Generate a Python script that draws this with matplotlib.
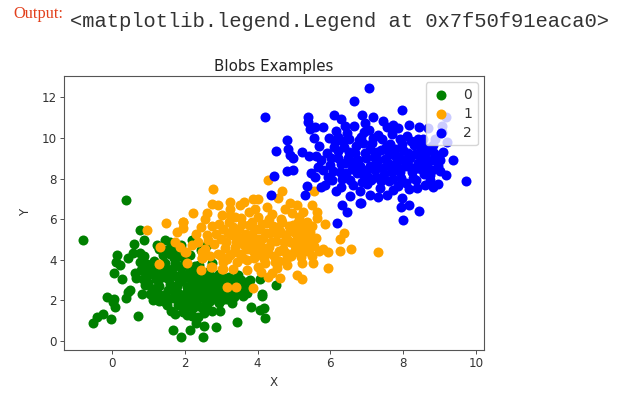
import matplotlib
matplotlib.use("Agg")
import matplotlib.pyplot as plt

title = "Blobs Examples"
x_label = "X"
y_label = "Y"
series_names = ["0", "1", "2"]
series_colors = ["green", "orange", "blue"]
x_ticks = [0, 2, 4, 6, 8, 10]
y_ticks = [0, 2, 4, 6, 8, 10, 12]

green_points = [
 (0.37,6.93),(-0.81,4.96),(0.77,5.45),(0.89,4.96),(0.59,4.78),(1.23,4.73),(1.45,4.98),(0.13,4.22),(0.11,3.91),
 (-0.15,2.17),(0.06,2.07),(0.09,1.66),(0.04,1.94),(0.37,2.13),(0.49,2.53),(0.45,2.43),(0.82,2.30),(0.05,3.35),
 (0.27,3.04),(0.22,3.74),(0.45,4.07),(0.57,4.32),(0.77,4.35),(0.88,4.2),(0.64,3.33),(0.66,3.09),(0.77,3.91),
 (0.70,1.23),(-0.53,0.87),(-0.42,1.2),(-0.24,1.31),(-0.04,1.07),(1.68,0.56),(1.89,0.21),(2.13,0.53),(2.51,0.2),
 (2.52,0.76),(2.85,0.69),(3.44,0.92),(2.31,0.9),(2.37,1.2),(2.53,1.4),(2.74,1.49),(2.98,1.49),(3.82,1.69),
 (4.07,1.53),(4.18,1.63),(4.21,1.13),(4.13,2.22),(4.07,3.05),(3.75,2.97),(3.6,2.22),(3.29,1.89),(4.5,2.75),
 (4.12,2.3),(0.8,3.5),(0.95,3.2),(1.05,3.65),(1.0,2.85),(1.1,2.55),(1.2,3.05),(1.25,2.3),(1.3,2.7),(1.35,3.4),
 (1.4,4.25),(1.45,3.85),(1.5,3.1),(1.55,2.5),(1.55,2.05),(1.6,2.8),(1.65,3.55),(1.7,4.1),(1.75,4.5),(1.75,3.2),
 (1.8,2.35),(1.8,1.75),(1.85,2.9),(1.9,3.6),(1.95,4.15),(1.95,1.45),(2.0,2.15),(2.0,3.25),(2.05,2.65),(2.1,1.7),
 (2.15,3.55),(2.15,4.25),(2.2,2.95),(2.25,2.3),(2.3,1.95),(2.35,3.2),(2.35,2.6),(2.4,3.75),(2.45,4.5),(2.5,2.1),
 (2.5,3.0),(2.55,1.7),(2.6,2.45),(2.65,3.4),(2.7,2.85),(2.75,3.85),(2.8,2.2),(2.85,3.1),(2.9,2.6),(2.95,1.85),
 (3.0,3.35),(3.05,2.9),(3.1,2.3),(3.15,2.05),(3.2,3.15),(3.25,2.55),(3.3,3.0),(3.35,2.15),(3.4,2.8),(3.45,3.25),
 (3.5,2.5),(3.55,3.0),(3.7,2.35),(3.8,3.0),(1.15,3.95),(1.3,4.55),(1.6,4.85),(1.9,4.75),(2.2,4.95),(2.6,4.75),
 (1.05,2.3),(0.9,2.75),(1.4,1.95),(1.7,2.45),(2.15,2.0),(2.4,2.75),(2.7,1.95),(3.0,2.0),(1.85,3.2),(2.25,3.4),
 (1.12,3.3),(1.22,2.6),(1.33,3.1),(1.42,2.25),(1.48,3.55),(1.58,4.3),(1.62,3.2),(1.68,2.1),(1.72,3.85),(1.78,2.7),
 (1.83,4.2),(1.88,1.95),(1.93,3.0),(1.98,3.8),(2.03,2.35),(2.08,1.95),(2.12,3.1),(2.18,2.6),(2.22,1.6),(2.28,3.7),
 (2.32,2.9),(2.38,2.2),(2.43,3.5),(2.48,2.55),(2.55,3.25),(2.6,2.05),(2.65,2.7),(2.72,3.2),(2.78,2.5),(2.83,2.9),
 (2.88,2.1),(2.93,3.3),(2.98,2.45),(3.03,2.7),(3.08,2.05),(3.13,3.05),(3.18,2.4),(3.23,2.8),(3.28,2.3),(3.38,2.5),
 (3.42,2.95),(3.52,2.75),(3.62,2.65),(3.68,2.55),(1.12,2.0),(1.28,1.95),(1.5,1.75),(1.62,1.5),(1.72,1.35),(1.98,1.75),
 (2.05,1.3),(2.2,1.25),(2.45,1.65),(2.62,1.8),(0.95,3.8),(1.02,3.45),(0.85,3.05),(1.15,3.5),(1.5,4.5),(1.68,4.65),
]

orange_points = [
 (2.78,7.49),(4.29,7.93),(2.23,6.32),(3.24,6.86),(2.74,6.75),(2.9,6.7),(3.52,6.7),(3.63,6.83),(3.87,6.98),(4.02,7.0),
 (4.66,7.41),(4.57,7.03),(5.55,7.37),(4.89,6.81),(5.07,6.7),(5.49,6.7),(5.62,6.37),(5.62,6.04),(5.85,5.75),(6.37,5.3),
 (6.25,5.01),(6.56,4.53),(6.25,4.45),(7.32,4.4),(5.94,4.4),(5.8,4.52),(5.93,3.6),(5.53,3.83),(5.21,3.04),(5.07,3.27),
 (5.21,3.83),(4.25,6.62),(3.93,6.49),(2.6,6.29),(2.56,5.99),(3.01,6.21),(3.24,6.21),(3.38,6.12),(1.96,5.88),(1.96,5.55),
 (2.44,5.6),(2.44,3.5),(2.05,3.83),(2.0,4.4),(2.46,4.4),(2.46,4.07),(2.72,3.66),(3.04,3.53),(3.33,3.53),(3.43,3.91),
 (3.7,3.5),(4.02,3.66),(4.29,3.14),(4.62,3.09),(4.53,3.58),(4.8,3.74),(3.17,2.68),(3.41,2.68),(3.87,2.59),(0.95,5.45),
 (1.48,5.83),(1.32,4.61),(1.3,3.79),(1.73,4.89),(2.03,4.4),(1.78,5.39),(1.94,5.88),(1.87,4.65),(2.19,4.73),(2.48,4.1),
 (2.74,3.63),(3.03,3.55),(2.6,5.2),(2.75,5.65),(2.8,4.8),(2.9,4.3),(3.0,5.0),(3.05,5.5),(3.1,4.6),(3.15,4.05),
 (3.2,5.85),(3.3,5.2),(3.35,4.4),(3.4,4.85),(3.5,5.5),(3.55,6.05),(3.6,4.1),(3.65,5.0),(3.7,4.55),(3.75,5.7),
 (3.85,5.25),(3.9,4.1),(3.95,4.8),(4.0,6.1),(4.05,5.5),(4.1,4.4),(4.15,5.05),(4.2,3.85),(4.25,5.8),(4.3,4.65),
 (4.35,5.3),(4.4,6.25),(4.45,4.2),(4.5,4.9),(4.55,5.6),(4.6,3.95),(4.65,6.0),(4.7,4.55),(4.75,5.2),(4.8,4.1),
 (4.85,5.65),(4.9,4.85),(4.95,6.3),(5.0,4.4),(5.05,5.25),(5.1,5.85),(5.15,4.7),(5.2,4.15),(5.25,5.1),(5.3,5.5),
 (5.35,4.45),(5.4,4.9),(5.45,5.35),(5.5,4.2),(5.55,4.7),(5.6,5.05),(5.7,4.45),(5.15,6.1),(5.35,5.85),(2.35,4.85),
 (2.55,4.55),(2.3,5.25),(2.7,4.2),(3.05,3.9),(3.25,6.5),(3.75,6.35),(4.75,6.5),(5.25,6.35),(4.1,3.4),(4.4,3.35),
 (2.65,4.95),(2.85,5.25),(2.95,5.75),(3.0,4.2),(3.12,4.85),(3.18,5.3),(3.25,4.25),(3.32,5.6),(3.38,4.65),(3.45,5.1),
 (3.52,4.3),(3.58,5.75),(3.62,4.75),(3.68,5.25),(3.72,4.0),(3.8,4.85),(3.85,5.85),(3.88,4.45),(3.92,5.5),(3.98,4.25),
 (4.02,5.0),(4.08,4.7),(4.12,5.75),(4.18,4.05),(4.22,5.3),(4.28,4.35),(4.32,6.0),(4.38,4.85),(4.42,5.65),(4.48,3.9),
 (4.52,5.25),(4.58,4.45),(4.62,5.4),(4.68,5.85),(4.72,4.85),(4.78,4.35),(4.82,5.0),(4.88,5.4),(4.92,4.2),(4.98,5.7),
 (5.02,4.7),(5.08,4.95),(5.12,5.45),(5.18,4.4),(5.22,5.75),(5.28,4.75),(5.32,5.2),(5.42,4.55),(5.48,5.0),(5.5,5.65),
]

blue_points = [
 (7.07,12.45),(6.66,11.82),(4.2,11.02),(7.97,11.4),(6.1,11.13),(6.29,10.95),(6.86,11.13),(7.18,11.02),(5.38,11.02),(5.38,10.8),
 (5.44,10.43),(5.81,10.53),(5.58,10.53),(4.8,9.9),(5.55,9.98),(4.84,9.46),(4.51,9.34),(4.89,9.16),(5.21,9.29),(4.98,9.0),
 (4.96,8.42),(4.82,8.37),(5.42,9.13),(5.48,8.26),(5.58,8.09),(4.44,8.11),(5.35,7.64),(5.3,7.19),(4.37,7.19),(6.31,6.7),
 (6.83,6.78),(7.93,6.62),(8.17,6.7),(8.44,6.4),(7.96,7.06),(7.32,7.11),(7.09,7.19),(7.73,7.44),(9.73,7.88),(9.18,8.18),
 (8.74,8.18),(9.38,8.92),(9.1,9.29),(9.2,9.82),(8.88,9.93),(8.67,10.48),(9.18,11.02),(9.07,10.6),(9.07,10.28),(8.44,10.56),
 (8.17,10.64),(7.73,10.64),(7.87,10.48),(8.83,7.6),(8.37,7.52),(8.6,7.68),(6.45,6.37),(6.17,5.83),(6.81,6.78),(8.0,5.95),
 (5.7,9.6),(5.75,8.9),(5.8,8.4),(5.85,7.7),(5.9,9.25),(5.95,10.0),(6.0,8.65),(6.05,7.95),(6.1,9.55),(6.15,10.35),
 (6.2,9.0),(6.25,8.3),(6.3,7.6),(6.35,9.85),(6.4,8.75),(6.45,10.25),(6.5,9.3),(6.55,7.95),(6.6,8.45),(6.65,10.6),
 (6.7,9.6),(6.75,8.9),(6.8,7.4),(6.85,10.05),(6.9,8.2),(6.95,9.25),(7.0,7.75),(7.05,10.4),(7.1,8.6),(7.15,9.75),
 (7.2,9.05),(7.25,8.1),(7.3,10.15),(7.35,7.55),(7.4,9.4),(7.45,8.5),(7.5,8.95),(7.55,10.55),(7.6,7.9),(7.65,9.7),
 (7.7,8.3),(7.75,9.15),(7.8,8.75),(7.85,7.65),(7.9,9.95),(7.95,8.05),(8.0,9.4),(8.05,8.6),(8.1,10.1),(8.15,7.5),
 (8.2,9.0),(8.25,8.3),(8.3,9.65),(8.35,7.95),(8.4,8.75),(8.45,9.3),(8.5,8.45),(8.55,9.95),(8.6,9.0),(8.65,8.6),
 (8.7,9.5),(8.75,7.95),(8.8,8.9),(8.85,9.25),(8.95,8.6),(9.0,8.35),(6.2,10.05),(6.55,7.15),(6.15,7.4),(5.75,7.6),
 (7.55,7.2),(8.95,7.75),(6.95,10.75),(7.45,10.85),(5.6,9.1),(5.65,8.55),(6.9,9.75),(7.25,8.75),(7.65,8.6),(7.0,8.4),
 (5.92,8.1),(6.02,9.0),(6.08,8.35),(6.12,9.8),(6.22,9.35),(6.28,8.7),(6.32,8.0),(6.38,9.55),(6.42,8.25),(6.48,9.0),
 (6.52,9.95),(6.58,8.8),(6.62,7.7),(6.68,9.25),(6.72,8.25),(6.78,9.9),(6.82,8.6),(6.88,7.85),(6.92,10.3),(6.98,9.0),
 (7.02,8.1),(7.08,9.45),(7.12,7.95),(7.18,10.0),(7.22,8.4),(7.28,9.3),(7.32,8.9),(7.38,7.9),(7.42,9.95),(7.48,8.2),
 (7.52,9.55),(7.58,8.75),(7.62,9.2),(7.68,10.2),(7.72,8.0),(7.78,9.45),(7.82,8.5),(7.88,9.05),(7.92,8.3),(7.98,9.7),
 (8.02,8.9),(8.08,7.8),(8.12,9.25),(8.18,8.55),(8.22,9.85),(8.28,8.05),(8.32,9.2),(8.38,8.5),(8.42,9.95),(8.48,8.9),
 (8.52,9.6),(8.58,8.2),(8.62,9.3),(8.68,8.85),(8.78,8.4),(8.82,9.65),(8.9,9.0),(8.98,9.1),(9.02,8.9),(6.4,10.6),
]

fig = plt.figure(figsize=(6.18, 3.94), dpi=100)
W, H = 618, 394
ax = fig.add_axes([64 / W, 1 - 349.5 / H, (484 - 64) / W, (349.5 - 76) / H])

for name, color, pts in zip(series_names, series_colors, [green_points, orange_points, blue_points]):
    ax.scatter([p[0] for p in pts], [p[1] for p in pts], s=52, c=color, label=name, linewidths=0)

ax.set_xlim(-1.32, 10.22)
ax.set_ylim(-0.42, 13.05)
ax.set_xticks(x_ticks)
ax.set_yticks(y_ticks)
ax.tick_params(labelsize=8.6, length=2.6, width=0.6, pad=2.6, colors="#333333")
for s in ax.spines.values():
    s.set_linewidth(0.8)
    s.set_color("#555555")
ax.set_title(title, fontsize=10.8, color="#222222", pad=3.5)
ax.set_xlabel(x_label, fontsize=8.6, color="#333333", labelpad=4.5)
ax.set_ylabel(y_label, fontsize=8.6, color="#333333", labelpad=7)
ax.legend(loc="upper right", fontsize=10, borderaxespad=0.42, handletextpad=0.9,
          labelspacing=0.36, borderpad=0.42, handlelength=1.4, labelcolor="#333333")

fig.text(13 / W, 1 - 18 / H, "Output:", family="Liberation Serif", fontsize=11.8, color="#e2401c")
fig.text(70 / W, 1 - 27 / H, "<matplotlib.legend.Legend at 0x7f50f91eaca0>",
         family="Liberation Mono", fontsize=14.8, color="#333333")

fig.savefig("out.png", dpi=100)
